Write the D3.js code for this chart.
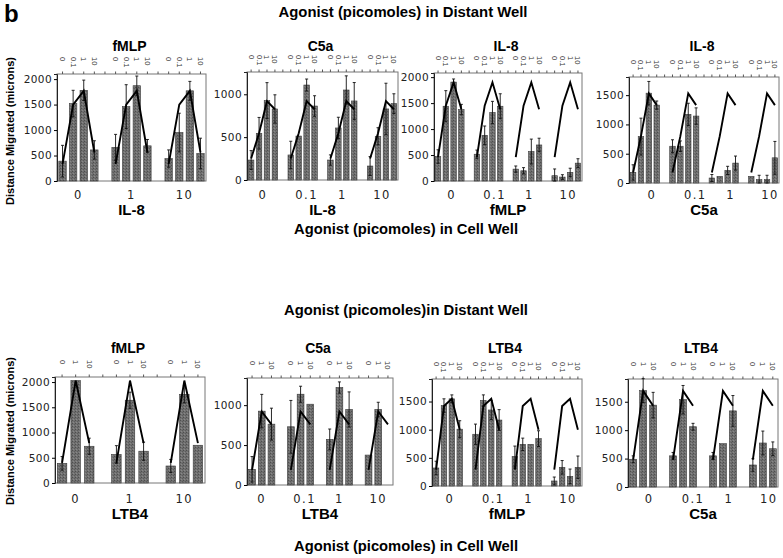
<!DOCTYPE html>
<html><head><meta charset="utf-8">
<script src="https://cdn.jsdelivr.net/npm/d3@7"></script>
<style>body{margin:0;background:#fff}svg{display:block;background:#fff}</style>
</head><body><svg id="c" width="783" height="558"></svg>
<script>
// ---------- text ----------
const distantTitleTop = "Agonist (picomoles) in Distant Well";
const distantTitleBottom = "Agonist (picomoles)in Distant Well";
const cellTitle = "Agonist (picomoles) in Cell Well";
const yTitle = "Distance Migrated (microns)";

// ---------- panel 1 : fMLP distant / IL-8 cell ----------
const p1Title = "fMLP", p1Axis = "IL-8";
const p1Groups = ["0", "1", "10"];
const p1Doses = ["0", "0.1", "1", "10"];
const p1Values = [[390, 1520, 1780, 610], [660, 1460, 1870, 690], [440, 950, 1770, 540]];
const p1Errors = [[310, 260, 200, 180], [255, 430, 190, 125], [170, 380, 185, 300]];
const p1Line = [330, 1500, 1770, 560];
const p1Ticks = [0, 500, 1000, 1500, 2000];

// ---------- panel 2 : C5a distant / IL-8 cell ----------
const p2Title = "C5a", p2Axis = "IL-8";
const p2Groups = ["0", "0.1", "1", "10"];
const p2Doses = ["0", "0.1", "1", "10"];
const p2Values = [[233, 545, 926, 829], [292, 513, 1108, 863], [233, 607, 1050, 922], [163, 510, 829, 891]];
const p2Errors = [[110, 185, 210, 165], [160, 0, 70, 120], [60, 125, 165, 215], [110, 100, 300, 115]];
const p2Line = [250, 545, 920, 825];
const p2Ticks = [0, 500, 1000];

// ---------- panel 3 : IL-8 distant / fMLP cell ----------
const p3Title = "IL-8", p3Axis = "fMLP";
const p3Groups = ["0", "0.1", "1", "10"];
const p3Doses = ["0", "0.1", "1", "10"];
const p3Values = [[471, 1440, 1905, 1376], [516, 879, 1319, 1440], [229, 197, 567, 694], [102, 76, 166, 344]];
const p3Errors = [[130, 300, 60, 100], [80, 180, 215, 240], [60, 60, 240, 130], [130, 45, 80, 85]];
const p3Line = [460, 1450, 1900, 1380];
const p3Ticks = [0, 500, 1000, 1500, 2000];

// ---------- panel 4 : IL-8 distant / C5a cell ----------
const p4Title = "IL-8", p4Axis = "C5a";
const p4Groups = ["0", "0.1", "1", "10"];
const p4Doses = ["0", "0.1", "1", "10"];
const p4Values = [[181, 792, 1534, 1330], [628, 628, 1172, 1143], [85, 113, 215, 340], [113, 57, 57, 430]];
const p4Errors = [[130, 315, 200, 70], [110, 90, 190, 140], [60, 0, 70, 120], [0, 75, 75, 280]];
const p4Line = [180, 800, 1530, 1330];
const p4Ticks = [0, 500, 1000, 1500];

// ---------- panel 5 : fMLP distant / LTB4 cell ----------
const p5Title = "fMLP", p5Axis = "LTB4";
const p5Groups = ["0", "1", "10"];
const p5Doses = ["0", "1", "10"];
const p5Values = [[389, 2030, 728], [565, 1640, 630], [337, 1757, 748]];
const p5Errors = [[135, 0, 160], [175, 160, 180], [130, 170, 0]];
const p5Line = [400, 2030, 790];
const p5Ticks = [0, 500, 1000, 1500, 2000];

// ---------- panel 6 : C5a distant / LTB4 cell ----------
const p6Title = "C5a", p6Axis = "LTB4";
const p6Groups = ["0", "0.1", "1", "10"];
const p6Doses = ["0", "1", "10"];
const p6Values = [[196, 925, 762], [729, 1137, 1012], [571, 1221, 946], [375, 946, null]];
const p6Errors = [[160, 210, 200], [330, 100, 0], [130, 70, 220], [0, 90, 0]];
const p6Line = [190, 920, 760];
const p6Ticks = [0, 500, 1000];

// ---------- panel 7 : LTB4 distant / fMLP cell ----------
const p7Title = "LTB4", p7Axis = "fMLP";
const p7Groups = ["0", "0.1", "1", "10"];
const p7Doses = ["0", "0.1", "1", "10"];
const p7Values = [[320, 1428, 1548, 1009], [919, 1518, 1350, 1171], [524, 740, 740, 841], [89, 332, 171, 332]];
const p7Errors = [[120, 120, 70, 150], [180, 100, 170, 185], [185, 110, 0, 140], [70, 120, 130, 200]];
const p7Line = [290, 1420, 1550, 1000];
const p7Ticks = [0, 500, 1000, 1500];

// ---------- panel 8 : LTB4 distant / C5a cell ----------
const p8Title = "LTB4", p8Axis = "C5a";
const p8Groups = ["0", "0.1", "1", "10"];
const p8Doses = ["0", "1", "10"];
const p8Values = [[488, 1696, 1440], [548, 1536, 1060], [548, 762, 1339], [387, 774, 673]];
const p8Errors = [[60, 210, 225], [60, 250, 60], [60, 0, 270], [110, 210, 120]];
const p8Line = [480, 1690, 1430];
const p8Ticks = [0, 500, 1000, 1500];

// ---------- layout ----------
const panels = [
  {title: p1Title, axis: p1Axis, groups: p1Groups, doses: p1Doses, values: p1Values, errors: p1Errors, line: p1Line, ticks: p1Ticks, max: 2100, x0: 57, x1: 206, yTop: 74, yZero: 181, row: 0, labelDx: 0},
  {title: p2Title, axis: p2Axis, groups: p2Groups, doses: p2Doses, values: p2Values, errors: p2Errors, line: p2Line, ticks: p2Ticks, max: 1260, x0: 247, x1: 398, yTop: 72, yZero: 180, row: 0, labelDx: 0},
  {title: p3Title, axis: p3Axis, groups: p3Groups, doses: p3Doses, values: p3Values, errors: p3Errors, line: p3Line, ticks: p3Ticks, max: 2080, x0: 434, x1: 582, yTop: 73, yZero: 181, row: 0, labelDx: 2},
  {title: p4Title, axis: p4Axis, groups: p4Groups, doses: p4Doses, values: p4Values, errors: p4Errors, line: p4Line, ticks: p4Ticks, max: 1810, x0: 629, x1: 779, yTop: 77, yZero: 183, row: 0, labelDx: 7},
  {title: p5Title, axis: p5Axis, groups: p5Groups, doses: p5Doses, values: p5Values, errors: p5Errors, line: p5Line, ticks: p5Ticks, max: 2100, x0: 55, x1: 205, yTop: 377, yZero: 483, row: 1, labelDx: 0},
  {title: p6Title, axis: p6Axis, groups: p6Groups, doses: p6Doses, values: p6Values, errors: p6Errors, line: p6Line, ticks: p6Ticks, max: 1340, x0: 247, x1: 393, yTop: 378, yZero: 485, row: 1, labelDx: 0},
  {title: p7Title, axis: p7Axis, groups: p7Groups, doses: p7Doses, values: p7Values, errors: p7Errors, line: p7Line, ticks: p7Ticks, max: 1900, x0: 432, x1: 582, yTop: 379, yZero: 486, row: 1, labelDx: 2},
  {title: p8Title, axis: p8Axis, groups: p8Groups, doses: p8Doses, values: p8Values, errors: p8Errors, line: p8Line, ticks: p8Ticks, max: 1900, x0: 628, x1: 778, yTop: 379, yZero: 487, row: 1, labelDx: 6}
];
const rows = [
  {titleY: 51, groupY: 199, axisY: 215},
  {titleY: 353, groupY: 503, axisY: 519}
];

const svg = d3.select("#c");
const SANS = "'Liberation Sans', Arial, Helvetica, sans-serif";
const NUM = "'DejaVu Sans', sans-serif";

// texture for bars
const defs = svg.append("defs");
const pat = defs.append("pattern").attr("id", "tex").attr("width", 3).attr("height", 3).attr("patternUnits", "userSpaceOnUse");
pat.append("rect").attr("width", 3).attr("height", 3).attr("fill", "#707070");
pat.append("rect").attr("x", 0).attr("y", 0).attr("width", 1).attr("height", 1).attr("fill", "#4e4e4e");
pat.append("rect").attr("x", 2).attr("y", 1).attr("width", 1).attr("height", 1).attr("fill", "#5c5c5c");
pat.append("rect").attr("x", 1).attr("y", 2).attr("width", 1).attr("height", 1).attr("fill", "#888");

// general titles
svg.append("text").attr("x", 4).attr("y", 22).attr("font-family", SANS).attr("font-weight", 900)
  .attr("font-size", 24).attr("fill", "#000").text("b");
function bigTitle(txt, xc, yb, len) {
  svg.append("text").attr("x", xc).attr("y", yb).attr("text-anchor", "middle").attr("font-family", SANS)
    .attr("font-weight", "bold").attr("font-size", 14).attr("textLength", len).attr("lengthAdjust", "spacingAndGlyphs")
    .text(txt);
}
bigTitle(distantTitleTop, 403, 17, 249);
bigTitle(cellTitle, 406, 234, 224);
bigTitle(distantTitleBottom, 406, 315, 244);
bigTitle(cellTitle, 406, 551, 224);
[131, 431].forEach(cy => {
  svg.append("text").attr("transform", `translate(14,${cy}) rotate(-90)`).attr("text-anchor", "middle")
    .attr("font-family", SANS).attr("font-weight", "bold").attr("font-size", 11).text(yTitle);
});

function drawPanel(p) {
  const g = svg.append("g");
  const nd = p.doses.length, ng = p.groups.length;
  const nSlots = ng * (nd + 1) - 1;
  const x = d3.scaleBand().domain(d3.range(nSlots)).range([p.x0, p.x1]).paddingInner(0.3).paddingOuter(0.17);
  const y = d3.scaleLinear().domain([0, p.max]).range([p.yZero, p.yTop]);
  const slot = (gi, di) => gi * (nd + 1) + di;
  const cx = (gi, di) => x(slot(gi, di)) + x.bandwidth() / 2;
  const row = rows[p.row];

  // frame
  g.append("rect").attr("x", p.x0).attr("y", p.yTop).attr("width", p.x1 - p.x0).attr("height", p.yZero - p.yTop)
    .attr("fill", "none").attr("stroke", "#777").attr("stroke-width", 1);

  // y axis
  const ya = g.append("g").attr("transform", `translate(${p.x0},0)`)
    .call(d3.axisLeft(y).tickValues(p.ticks).tickSize(3).tickPadding(2).tickFormat(d3.format("d")));
  ya.select(".domain").attr("stroke", "#222");
  ya.selectAll("text").attr("font-family", NUM).attr("font-size", 10.5).attr("letter-spacing", 0.4).attr("fill", "#222");

  // top axis ticks (every slot)
  const ta = g.append("g").attr("transform", `translate(0,${p.yTop})`)
    .call(d3.axisTop(x).tickSize(2.5).tickSizeOuter(0).tickFormat(""));
  ta.select(".domain").remove();
  ta.selectAll("line").attr("stroke", "#555");

  // top dose labels
  p.groups.forEach((gl, gi) => {
    p.doses.forEach((dl, di) => {
      g.append("text").attr("transform", `translate(${cx(gi, di)},${p.yTop - 17}) rotate(90)`)
        .attr("dominant-baseline", "central").attr("font-family", SANS).attr("font-size", 7.5)
        .attr("fill", "#333").text(dl);
    });
  });

  // bars
  p.values.forEach((vals, gi) => {
    vals.forEach((v, di) => {
      if (v == null) return;
      g.append("rect").attr("x", x(slot(gi, di))).attr("width", x.bandwidth())
        .attr("y", y(v)).attr("height", y(0) - y(v))
        .attr("fill", "url(#tex)").attr("stroke", "#3a3a3a").attr("stroke-width", 0.6);
    });
  });

  // error bars
  p.values.forEach((vals, gi) => {
    vals.forEach((v, di) => {
      const e = p.errors[gi][di];
      if (v == null || !e) return;
      const c = cx(gi, di);
      const lo = Math.max(0, v - e), hi = v + e;
      g.append("line").attr("x1", c).attr("x2", c).attr("y1", y(lo)).attr("y2", y(hi))
        .attr("stroke", "#111").attr("stroke-width", 0.9);
      [hi, lo].forEach(t => g.append("line").attr("x1", c - 1.5).attr("x2", c + 1.5).attr("y1", y(t)).attr("y2", y(t))
        .attr("stroke", "#111").attr("stroke-width", 0.9));
    });
  });

  // reference line repeated in each group
  const lineGen = d3.line().x(d => d[0]).y(d => y(d[1]));
  p.groups.forEach((gl, gi) => {
    const pts = p.line.map((v, di) => [cx(gi, di), v]);
    g.append("path").attr("d", lineGen(pts)).attr("fill", "none").attr("stroke", "#000")
      .attr("stroke-width", 1.9).attr("stroke-linejoin", "miter");
  });

  // group labels
  p.groups.forEach((gl, gi) => {
    const c = (cx(gi, 0) + cx(gi, nd - 1)) / 2 + p.labelDx + (gl === "0.1" ? 4 : 0);
    g.append("text").attr("x", c).attr("y", row.groupY).attr("text-anchor", "middle")
      .attr("font-family", NUM).attr("font-size", 11.5).attr("letter-spacing", 1.5).attr("fill", "#222").text(gl);
  });

  // panel title and axis title
  const mid = (p.x0 + p.x1) / 2;
  g.append("text").attr("x", mid - 2).attr("y", row.titleY).attr("text-anchor", "middle")
    .attr("font-family", SANS).attr("font-weight", "bold").attr("font-size", 14).text(p.title);
  g.append("text").attr("x", mid).attr("y", row.axisY).attr("text-anchor", "middle")
    .attr("font-family", SANS).attr("font-weight", "bold").attr("font-size", 15).text(p.axis);
}

panels.forEach(drawPanel);
</script>
</body></html>
